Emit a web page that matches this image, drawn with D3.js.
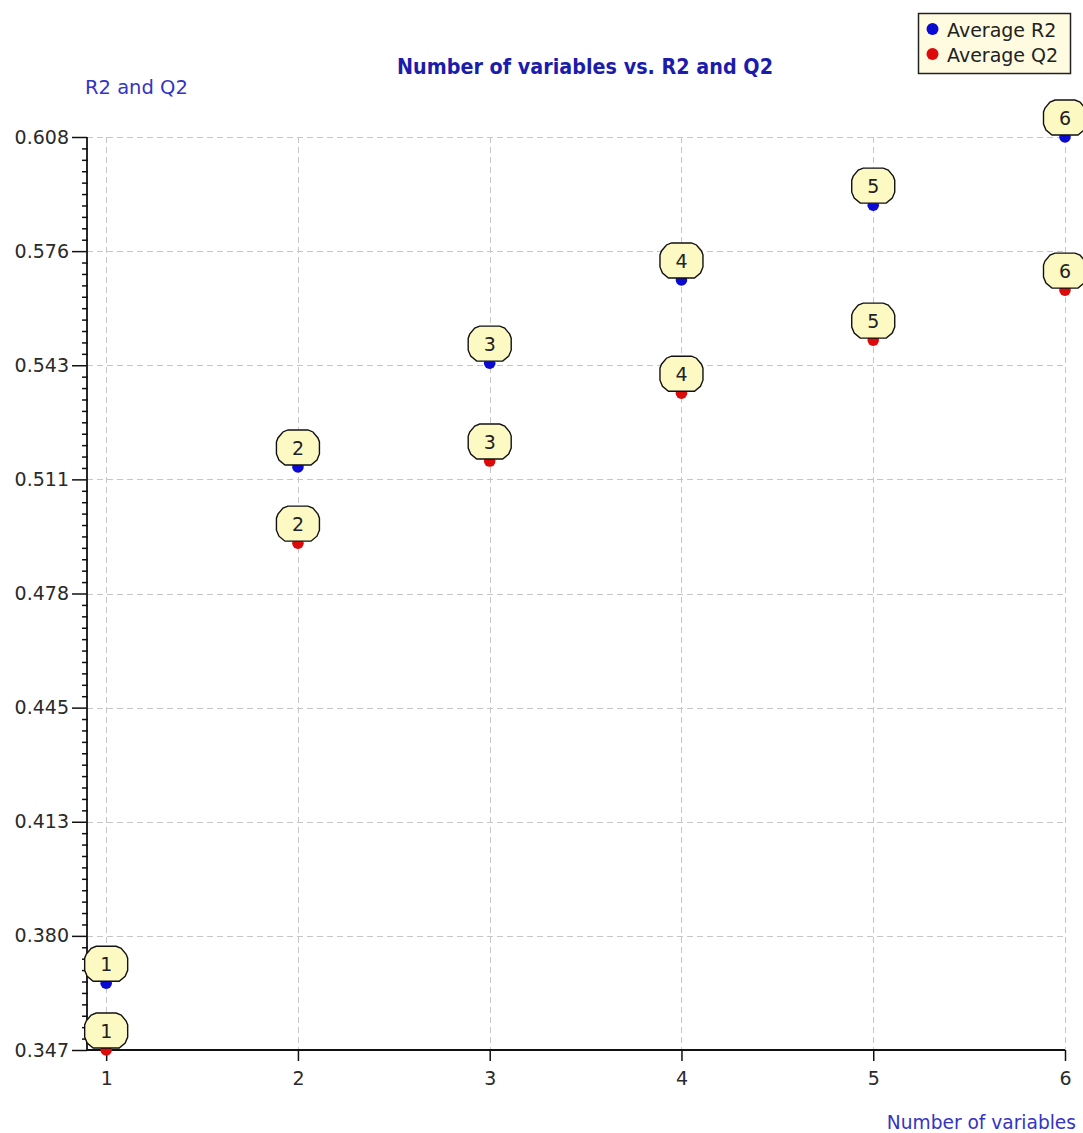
<!DOCTYPE html>
<html>
<head>
<meta charset="utf-8">
<script src="https://cdn.jsdelivr.net/npm/d3@7"></script>
<style>
  html, body { margin: 0; padding: 0; background: #ffffff; }
  svg { display: block; }
</style>
</head>
<body>
<div id="chart"></div>
<script>
// Number of variables in the model and the averaged R2 / Q2 for each size
const nVars = [1, 2, 3, 4, 5, 6];
const avgR2 = [0.3664, 0.5141, 0.5438, 0.5676, 0.5890, 0.6085];
const avgQ2 = [0.3473, 0.4923, 0.5158, 0.5352, 0.5504, 0.5647];
const xTickValues = [1, 2, 3, 4, 5, 6];
const yTickLabels = ["0.347", "0.380", "0.413", "0.445", "0.478", "0.511", "0.543", "0.576", "0.608"];
const seriesNames = ["Average R2", "Average Q2"];
const seriesColors = ["#0a0ad2", "#dc0a0a"];

const W = 1083, H = 1133;
const plot = { left: 87, right: 1065, top: 137, bottom: 1050 };
const FONT = "'DejaVu Sans', Verdana, sans-serif";

const svg = d3.select("#chart").append("svg")
  .attr("width", W).attr("height", H);

const x = d3.scaleLinear().domain([0.9, 6]).range([plot.left, plot.right]);
const yLo = d3.min(avgQ2), yHi = d3.max(avgR2);
const y = d3.scaleLinear().domain([yLo, yHi]).range([plot.bottom, plot.top]);

const yMajor = d3.range(yTickLabels.length).map(i => yLo + i * (yHi - yLo) / (yTickLabels.length - 1));
const yMinor = [];
for (let i = 0; i < yMajor.length - 1; i++) {
  for (let k = 1; k < 10; k++) yMinor.push(yMajor[i] + k * (yMajor[i + 1] - yMajor[i]) / 10);
}

// dashed grid
const grid = svg.append("g").attr("stroke", "#c6c6c6").attr("stroke-width", 1)
  .attr("stroke-dasharray", "6,4").attr("fill", "none");
grid.selectAll("line.h").data(yMajor.slice(1)).join("line")
  .attr("class", "h")
  .attr("x1", plot.left).attr("x2", plot.right)
  .attr("y1", d => Math.round(y(d)) + 0.5).attr("y2", d => Math.round(y(d)) + 0.5);
grid.selectAll("line.v").data(xTickValues).join("line")
  .attr("class", "v")
  .attr("x1", d => Math.round(x(d)) + 0.5).attr("x2", d => Math.round(x(d)) + 0.5)
  .attr("y1", plot.top).attr("y2", plot.bottom);

// y axis: major ticks with labels, then minor ticks
const yAxis = d3.axisLeft(y)
  .tickValues(yMajor)
  .tickSize(15)
  .tickPadding(3)
  .tickFormat((d, i) => yTickLabels[i]);
const gy = svg.append("g").attr("transform", `translate(${plot.left},0)`).call(yAxis);
gy.select(".domain").remove();
gy.selectAll("line").attr("stroke", "#111").attr("stroke-width", 1.5);
gy.selectAll("text").attr("font-family", FONT).attr("font-size", 19).attr("fill", "#2a2a2a");

const yMinorAxis = d3.axisLeft(y).tickValues(yMinor).tickSize(6).tickFormat("");
const gyMinor = svg.append("g").attr("transform", `translate(${plot.left + 1},0)`).call(yMinorAxis);
gyMinor.select(".domain").remove();
gyMinor.selectAll("line").attr("stroke", "#111").attr("stroke-width", 1.5);

svg.append("line")
  .attr("x1", plot.left).attr("x2", plot.left)
  .attr("y1", plot.top).attr("y2", plot.bottom)
  .attr("stroke", "#111").attr("stroke-width", 1.8);

// x axis
const xAxis = d3.axisBottom(x).tickValues(xTickValues).tickSize(11).tickPadding(11).tickFormat(d3.format("d"));
const gx = svg.append("g").attr("transform", `translate(0,${plot.bottom})`).call(xAxis);
gx.select(".domain").remove();
gx.selectAll("line").attr("stroke", "#111").attr("stroke-width", 1.5);
gx.selectAll("text").attr("font-family", FONT).attr("font-size", 19).attr("fill", "#2a2a2a");
svg.append("line")
  .attr("x1", plot.left).attr("x2", plot.right)
  .attr("y1", plot.bottom).attr("y2", plot.bottom)
  .attr("stroke", "#111").attr("stroke-width", 1.8);

// titles
svg.append("text")
  .attr("x", 585).attr("y", 74)
  .attr("text-anchor", "middle")
  .attr("font-family", FONT).attr("font-weight", "bold").attr("font-size", 21)
  .attr("textLength", 376).attr("lengthAdjust", "spacingAndGlyphs")
  .attr("fill", "#1c1cac")
  .text("Number of variables vs. R2 and Q2");
svg.append("text")
  .attr("x", 85).attr("y", 94)
  .attr("font-family", FONT).attr("font-size", 19.5)
  .attr("fill", "#3434c4")
  .text("R2 and Q2");
svg.append("text")
  .attr("x", 1076).attr("y", 1129)
  .attr("text-anchor", "end")
  .attr("font-family", FONT).attr("font-size", 18.6)
  .attr("fill", "#3434c4")
  .text("Number of variables");

// points with numbered callouts
const series = [avgR2, avgQ2];
const bubblePath = "M-10,-37 L10,-37 L15,-35 L20,-29 L21.5,-25 L21.5,-13 L19,-7 L13,-2 L-13,-2 L-19,-7 L-21.5,-13 L-21.5,-25 L-20,-29 L-15,-35 Z";

series.forEach((vals, s) => {
  const pts = nVars.map((n, i) => ({ n, v: vals[i] }));
  svg.append("g").selectAll("circle").data(pts).join("circle")
    .attr("cx", d => x(d.n)).attr("cy", d => y(d.v))
    .attr("r", 5.8)
    .attr("fill", seriesColors[s]);
});

series.forEach((vals, s) => {
  const pts = nVars.map((n, i) => ({ n, v: vals[i] }));
  const g = svg.append("g").selectAll("g").data(pts).join("g")
    .attr("transform", d => `translate(${x(d.n)},${y(d.v)})`);
  g.append("path")
    .attr("d", bubblePath)
    .attr("fill", "#fcf9c2")
    .attr("stroke", "#111")
    .attr("stroke-width", 1.4);
  g.append("text")
    .attr("y", -19)
    .attr("text-anchor", "middle")
    .attr("dominant-baseline", "central")
    .attr("font-family", FONT).attr("font-size", 19)
    .attr("fill", "#222")
    .text(d => d.n);
});

// legend
const legend = svg.append("g");
legend.append("rect")
  .attr("x", 918.5).attr("y", 13.5).attr("width", 152).attr("height", 60)
  .attr("fill", "#fffbe0").attr("stroke", "#222").attr("stroke-width", 1.5);
seriesNames.forEach((name, i) => {
  const ly = 29 + i * 25;
  legend.append("circle").attr("cx", 932.5).attr("cy", ly).attr("r", 6).attr("fill", seriesColors[i]);
  legend.append("text")
    .attr("x", 947).attr("y", ly + 1)
    .attr("dominant-baseline", "central")
    .attr("font-family", FONT).attr("font-size", 19)
    .attr("fill", "#222")
    .text(name);
});
</script>
</body>
</html>
